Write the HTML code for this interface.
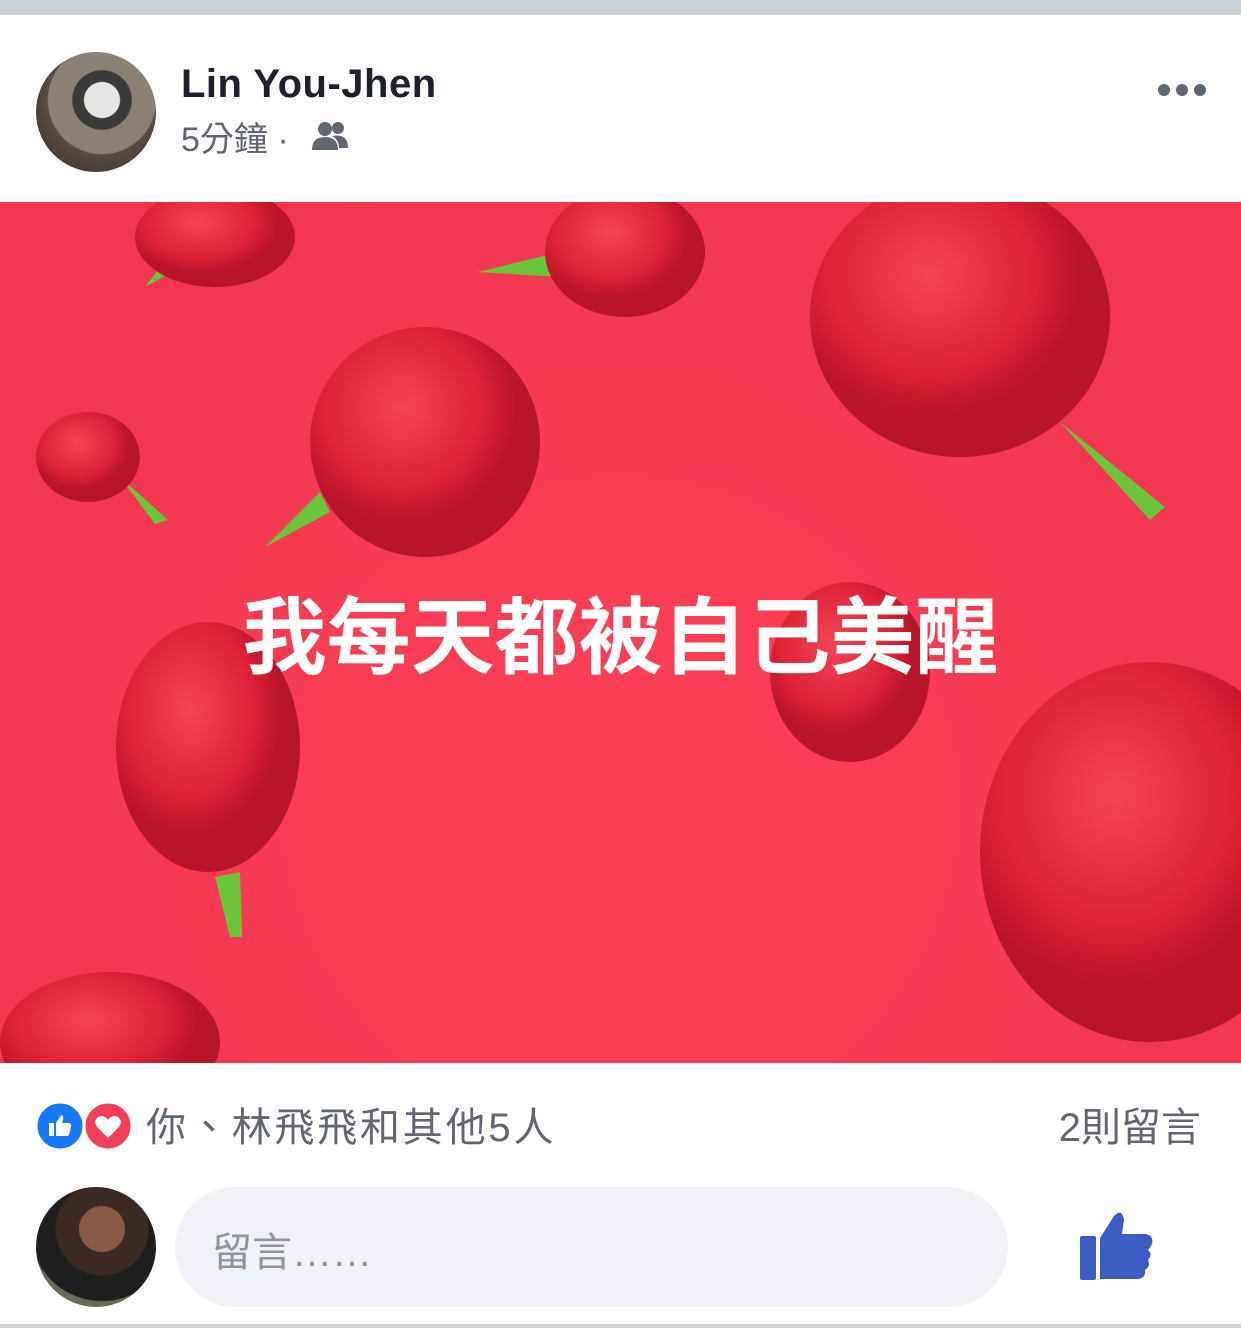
<!DOCTYPE html>
<html><head><meta charset="utf-8">
<style>
*{margin:0;padding:0;box-sizing:border-box}
body{width:1241px;height:1328px;background:#fff;position:relative;overflow:hidden;font-family:"Liberation Sans","Noto Sans CJK TC",sans-serif}
.abs{position:absolute}
</style></head><body>
<div class="abs" style="left:0;top:0;width:1241px;height:15px;background:#cdd0d5"></div>

<div class="abs" style="left:36px;top:52px;width:120px;height:120px;border-radius:50%;background:radial-gradient(circle at 55% 40%,#e8e6e2 0 18%,#3a3a3a 19% 30%,#8c7f74 31% 55%,#5a4a40 56%,#2e2a28 100%)"></div>
<div class="abs" style="left:181px;top:62px;font-size:40px;font-weight:bold;color:#1d2129;letter-spacing:0.5px">Lin You-Jhen</div>
<div class="abs" style="left:181px;top:112px;font-size:34px;color:#606770">5分鐘 ·</div>
<svg class="abs" style="left:312px;top:120px" width="36" height="32" viewBox="0 0 36 32">
<circle cx="13" cy="9" r="7" fill="#606770"/><path d="M0 30 Q0 17 13 17 Q26 17 26 30Z" fill="#606770"/>
<circle cx="26" cy="8" r="6" fill="#606770"/><path d="M20 16 Q36 13 36 28 L27 28 Q27 20 20 16Z" fill="#606770"/></svg>
<div class="abs" style="left:1156px;top:82px;width:52px;height:16px">
<span class="abs" style="left:2px;top:2px;width:12px;height:12px;border-radius:50%;background:#606770"></span>
<span class="abs" style="left:20px;top:2px;width:12px;height:12px;border-radius:50%;background:#606770"></span>
<span class="abs" style="left:38px;top:2px;width:12px;height:12px;border-radius:50%;background:#606770"></span></div>

<div class="abs" style="left:0;top:202px;width:1241px;height:861px;overflow:hidden;background:radial-gradient(ellipse at 50% 70%,#fd4058,#f0374f 80%)">
<svg class="abs" style="left:0;top:0" width="1241" height="861">
<defs><radialGradient id="r" cx="40%" cy="35%"><stop offset="0" stop-color="#f24657"/><stop offset="0.7" stop-color="#dd2236"/><stop offset="1" stop-color="#b8142a"/></radialGradient></defs>
<g fill="#6cc43a"><path d="M145 85 L190 60 L175 45Z"/><path d="M478 70 L560 50 L560 75Z"/><path d="M1060 220 L1165 305 L1150 318Z"/><path d="M265 345 L330 310 L320 290Z"/><path d="M120 275 L168 318 L155 322Z"/><path d="M215 675 L230 735 L242 735 L240 670Z"/></g>
<ellipse cx="215" cy="35" rx="80" ry="50" fill="url(#r)"/>
<ellipse cx="625" cy="50" rx="80" ry="65" fill="url(#r)"/>
<ellipse cx="960" cy="115" rx="150" ry="140" fill="url(#r)"/>
<ellipse cx="425" cy="240" rx="115" ry="115" fill="url(#r)"/>
<ellipse cx="88" cy="255" rx="52" ry="45" fill="url(#r)"/>
<ellipse cx="208" cy="545" rx="92" ry="125" fill="url(#r)"/>
<ellipse cx="850" cy="470" rx="80" ry="90" fill="url(#r)"/>
<ellipse cx="1150" cy="650" rx="170" ry="190" fill="url(#r)"/>
<ellipse cx="110" cy="840" rx="110" ry="70" fill="url(#r)"/>
</svg>
<div class="abs" style="left:0;top:380px;width:1241px;text-align:center;font-size:84px;font-weight:bold;color:#fff;font-family:'Noto Sans CJK TC',sans-serif;line-height:100px">我每天都被自己美醒</div>
</div>

<svg class="abs" style="left:36px;top:1101px" width="98" height="50" viewBox="0 0 98 50">
<circle cx="72" cy="25" r="24" fill="#f33e58" stroke="#fff" stroke-width="3"/>
<path d="M72 37 L61 26 Q57 20 62 16 Q68 13 72 19 Q76 13 82 16 Q87 20 83 26Z" fill="#fff"/>
<circle cx="24" cy="25" r="24" fill="#1877f2" stroke="#fff" stroke-width="3"/>
<path d="M13 22 h5 v13 h-5z M20 22 l5-8 q3 0 2 5 l-1 3 h7 q3 1 2 4 l-2 8 q-1 1-3 1 h-10z" fill="#fff"/></svg>
<div class="abs" style="left:146px;top:1095px;font-size:40px;color:#606770;letter-spacing:2.8px">你、林飛飛和其他5人</div>
<div class="abs" style="right:40px;top:1095px;font-size:40px;color:#606770">2則留言</div>

<div class="abs" style="left:36px;top:1187px;width:120px;height:120px;border-radius:50%;background:radial-gradient(circle at 55% 35%,#8a5a45 0 22%,#3a2a22 23% 45%,#1e1e1e 46% 70%,#6a6a58 71%)"></div>
<div class="abs" style="left:175px;top:1187px;width:833px;height:120px;border-radius:60px;background:#f0f2f5"></div>
<div class="abs" style="left:212px;top:1220px;font-size:40px;color:#8d949e">留言……</div>
<svg class="abs" style="left:1078px;top:1208px" width="76" height="74" viewBox="0 0 76 74">
<rect x="2" y="28" width="16" height="44" rx="2" fill="#3b5dc2"/>
<path d="M22 30 L36 8 Q44 0 46 12 L44 26 L68 26 Q76 28 74 36 Q72 40 70 42 Q75 46 70 52 Q73 58 67 62 Q68 70 60 71 L22 71Z" fill="#3b5dc2"/></svg>
<div class="abs" style="left:0;top:1324px;width:1241px;height:4px;background:#cdd0d5"></div>
</body></html>
